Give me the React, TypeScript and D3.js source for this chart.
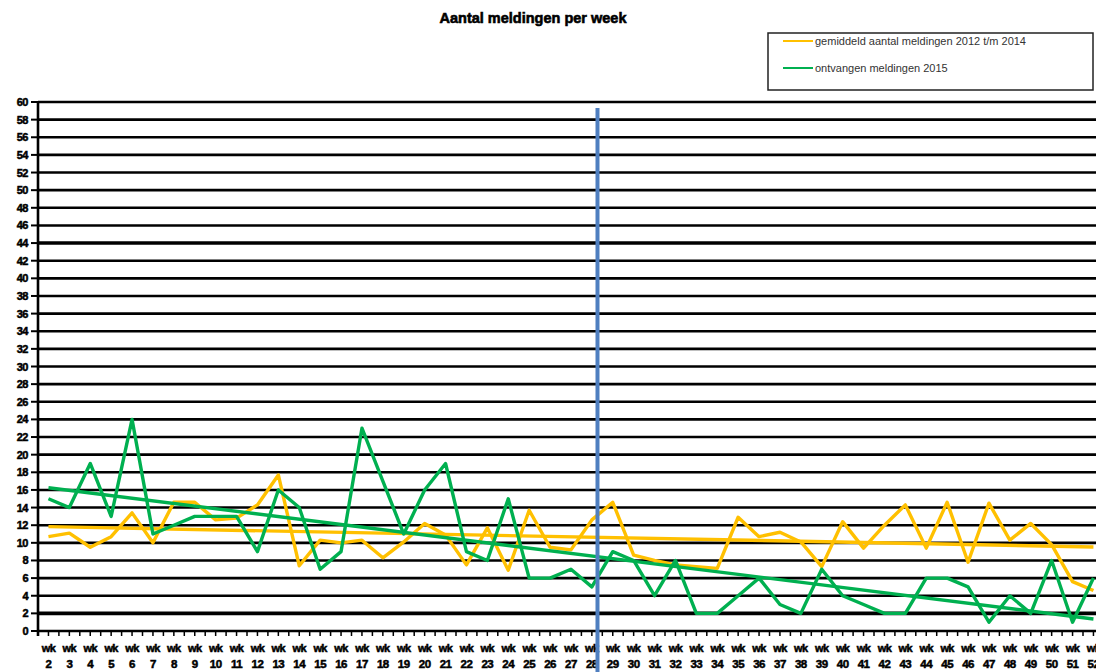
import React from "react";
import * as d3 from "d3";

const weeks: number[] = d3.range(2, 53);
const avg2012_2014: number[] = [
  10.7, 11.1, 9.5, 10.7, 13.4, 10, 14.6, 14.6, 12.6, 12.8,
  14.3, 17.7, 7.4, 10.3, 10, 10.3, 8.3, 10.1, 12.2, 10.9,
  7.5, 11.7, 6.9, 13.7, 9.5, 9.2, 12.6, 14.6, 8.6, 8,
  7.5, 7.3, 7.1, 12.9, 10.7, 11.2, 10.1, 7.3, 12.4, 9.4,
  12, 14.3, 9.4, 14.6, 7.8, 14.5, 10.3, 12.2, 9.8, 5.6, 4.6,
];
const received2015: number[] = [
  15, 14, 19, 13, 24, 11, 12, 13, 13, 13,
  9, 16, 14, 7, 9, 23, 17, 11, 16, 19,
  9, 8, 15, 6, 6, 7, 5, 9, 8, 4,
  8, 2, 2, 4, 6, 3, 2, 7, 4, 3,
  2, 2, 6, 6, 5, 1, 4, 2, 8, 1, 6,
];
const yTicks: number[] = d3.range(0, 61, 2);
const seriesNames: string[] = [
  "gemiddeld aantal meldingen 2012 t/m 2014",
  "ontvangen meldingen 2015",
];
const markerWeek = 28;

const W = 1096;
const H = 672;
const left = 38;
const step = 20.9;
const top = 102;
const bottom = 631;

function regression(xs: number[], ys: number[]) {
  const mx = d3.mean(xs)!;
  const my = d3.mean(ys)!;
  let num = 0, den = 0;
  xs.forEach((x, i) => {
    num += (x - mx) * (ys[i] - my);
    den += (x - mx) * (x - mx);
  });
  const b = num / den;
  const a = my - b * mx;
  return (x: number) => a + b * x;
}

export default function App() {
  const x = d3
    .scaleBand<number>()
    .domain(weeks)
    .range([left, left + weeks.length * step])
    .padding(0);
  const cx = (w: number) => x(w)! + x.bandwidth() / 2;
  const y = d3.scaleLinear().domain([0, 60]).range([bottom, top]);

  const line = d3
    .line<number>()
    .x((_, i) => cx(weeks[i]))
    .y((d) => y(d));

  const orangeTrend = regression(weeks, avg2012_2014);
  const greenTrend = regression(weeks, received2015);
  const trendLine = (f: (x: number) => number) =>
    d3
      .line<number>()
      .x((w) => cx(w))
      .y((w) => y(f(w)))([weeks[0], weeks[weeks.length - 1]]);

  const orange = "#FFC000";
  const green = "#00B050";
  const blue = "#4F7FC0";

  const minorTicks: number[] = [];
  weeks.forEach((w) => {
    minorTicks.push(x(w)!);
    minorTicks.push(cx(w));
  });

  const font = "Arial, 'Liberation Sans', sans-serif";

  return (
    <svg
      width={W}
      height={H}
      style={{ position: "absolute", left: 0, top: 0, background: "#fff" }}
      fontFamily={font}
    >
      <text x={533} y={23} textAnchor="middle" fontSize={14.5} fontWeight="bold" fill="#000" stroke="#000" strokeWidth={0.6}>
        Aantal meldingen per week
      </text>

      {/* legend */}
      <rect x={768} y={33} width={325} height={57} fill="#fff" stroke="#222" strokeWidth={1.5} />
      <line x1={783} x2={813} y1={41} y2={41} stroke={orange} strokeWidth={2} />
      <text x={815} y={45} fontSize={11} fill="#333">{seriesNames[0]}</text>
      <line x1={783} x2={813} y1={68} y2={68} stroke={green} strokeWidth={2} />
      <text x={815} y={72} fontSize={11} fill="#333">{seriesNames[1]}</text>

      {/* gridlines */}
      {yTicks.map((t) => (
        <line
          key={"g" + t}
          x1={left}
          x2={W}
          y1={y(t)}
          y2={y(t)}
          stroke="#000"
          strokeWidth={t === 44 || t === 2 ? 3.6 : 2.6}
        />
      ))}
      {/* y axis */}
      <line x1={left} x2={left} y1={top - 1} y2={bottom + 5} stroke="#000" strokeWidth={2.6} />
      {yTicks.map((t) => (
        <g key={"yt" + t}>
          <line x1={left - 7} x2={left} y1={y(t)} y2={y(t)} stroke="#000" strokeWidth={2} />
          <text x={28} y={y(t) + 4} textAnchor="end" fontSize={11} fontWeight="bold" fill="#000" stroke="#000" strokeWidth={0.5} letterSpacing={-0.5}>
            {t}
          </text>
        </g>
      ))}
      {/* x ticks */}
      {minorTicks.map((px, i) => (
        <line key={"xt" + i} x1={px} x2={px} y1={bottom} y2={bottom + 5} stroke="#000" strokeWidth={1.5} />
      ))}
      {weeks.map((w) => (
        <g key={"xl" + w}>
          <text x={cx(w)} y={652} textAnchor="middle" fontSize={11} fontWeight="bold" fill="#000" stroke="#000" strokeWidth={0.5} letterSpacing={-0.6}>
            wk
          </text>
          <text x={cx(w)} y={668} textAnchor="middle" fontSize={11.5} fontWeight="bold" fill="#000" stroke="#000" strokeWidth={0.5} letterSpacing={-0.5}>
            {w}
          </text>
        </g>
      ))}

      {/* series */}
      <path d={trendLine(orangeTrend)!} fill="none" stroke={orange} strokeWidth={3.4} />
      <path d={line(avg2012_2014)!} fill="none" stroke={orange} strokeWidth={3.4} strokeLinejoin="round" />
      <path d={trendLine(greenTrend)!} fill="none" stroke={green} strokeWidth={3.4} />
      <path d={line(received2015)!} fill="none" stroke={green} strokeWidth={3.4} strokeLinejoin="round" />

      {/* marker */}
      <line
        x1={cx(markerWeek) + step * 0.27}
        x2={cx(markerWeek) + step * 0.27}
        y1={108}
        y2={H}
        stroke={blue}
        strokeWidth={4}
      />
    </svg>
  );
}
